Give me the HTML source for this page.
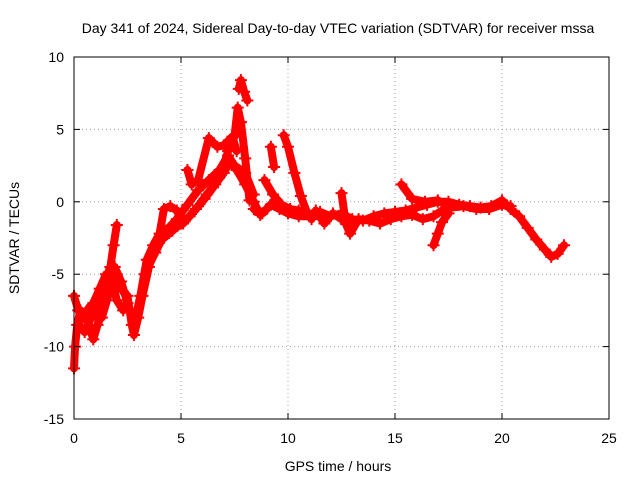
<!DOCTYPE html>
<html><head><meta charset="utf-8"><style>
body{margin:0;background:#fff}
svg text{font-family:"Liberation Sans",sans-serif;font-size:14px;fill:#000}
</style></head><body>
<svg width="640" height="480" viewBox="0 0 640 480">
<text x="338" y="33" text-anchor="middle">Day 341 of 2024, Sidereal Day-to-day VTEC variation (SDTVAR) for receiver mssa</text>
<g id="grid"></g>
<g id="data"></g>
<g id="axes"></g>
<text x="338" y="471" text-anchor="middle">GPS time / hours</text>
<text transform="translate(19,238) rotate(-90)" text-anchor="middle">SDTVAR / TECUs</text>
</svg>
<script>
const xTicks=[0,5,10,15,20,25];
const yTicks=[-15,-10,-5,0,5,10];
const t1h=[0,0.05,0.15,0.3,0.5,0.7,0.9,1.1,1.3,1.5,1.7,1.85,2.0];
const t1v=[-11.5,-10,-8.5,-7.5,-7.8,-8.5,-9.5,-8.5,-7,-5.5,-4.5,-3,-1.6];
const t2h=[0,0.2,0.4,0.6,0.9,1.2,1.5,1.8,2.0,2.2,2.5,2.7,2.8,3.0,3.2,3.5,3.8,4.2,4.6,5.0,5.4,5.8,6.2,6.6,7.0,7.3,7.6,8.0,8.4,8.7,9.0,9.4];
const t2v=[-6.5,-7.5,-8,-7.5,-7,-6,-5,-5.5,-5,-6,-6.5,-8.5,-9.2,-8,-6.5,-4.5,-3,-2.5,-2,-1.5,-1,-0.3,0.5,1.2,2,2.8,2.2,1.2,0,-0.9,-0.5,0.1];
const t3h=[1.3,1.6,1.9,2.2,2.5,2.8,3.1,3.4,3.7,4.0,4.2,4.5,4.8,5.1,5.4,5.7,6.1,6.5,6.9,7.2,7.5,7.65,7.8,8.0,8.2];
const t3v=[-8,-6.5,-4.5,-5.5,-7,-8.5,-6.5,-4,-3,-2.2,-0.5,-0.3,-0.6,-1.5,-1,-0.5,0.2,1,2,3.5,4.5,6.5,5.5,3,0.1];
const t4h=[5.3,5.5,5.8,6.3,6.7,7.0,7.4,7.6];
const t4v=[2.2,1.2,1.5,4.4,3.8,3.9,4.5,3.5];
const t5h=[9.8,10.0,10.3,10.6,10.9,11.1];
const t5v=[4.6,3.8,2,0.4,-0.8,-1.2];
const t6h=[8.4,8.8,9.2,9.6,10.0,10.5,11.0,11.5,12.0,12.5,13,13.5,14,14.5,15,15.5,16,16.5,17,17.5,18,18.5,19,19.5,20,20.4,20.8,21.2,21.6,22,22.3,22.6,22.9];
const t6v=[-0.5,-0.8,-0.2,-0.5,-0.8,-1,-1,-0.7,-1,-0.8,-1.2,-1.3,-1,-0.8,-0.7,-0.6,-0.4,-0.2,0,0,-0.2,-0.3,-0.4,-0.3,0.1,-0.5,-1,-1.8,-2.6,-3.3,-3.8,-3.6,-3];
const t7h=[15.3,15.8,16.4,17,17.6,18.2,18.8,19.4,20,20.4];
const t7v=[1.2,0.2,0,0.1,-0.4,-0.3,-0.5,-0.5,-0.2,-0.3];
const t8h=[12.5,12.7,12.9,13.3,13.8,14.3,14.8,15.3,15.8,16.3,16.8,17.2];
const t8v=[0.6,-1.5,-2.2,-1.2,-1.3,-1.5,-1.2,-1,-0.9,-1.2,-1,-0.6];
const t9h=[7.7,7.8,7.95,8.1];
const t9v=[7.8,8.4,7.6,7.0];
const t10h=[8.9,9.3,9.7,10.1,10.5,11.0];
const t10v=[1.5,0.5,-0.2,-0.5,-0.6,-1];
const t11h=[16.8,17.0,17.2,17.5];
const t11v=[-3,-2.2,-1.4,-0.8];
const t12h=[9.2,9.35];
const t12v=[3.8,2.4];
const t13h=[3.3,3.8,4.3,4.8,5.3,5.8,6.3,6.8,7.2,7.5,8.0,8.4];
const t13v=[-5,-3.5,-2,-1.2,-0.2,0.8,1.5,2.2,3.2,2.5,2,0.5];
const t14h=[0.2,0.5,0.8,1.1,1.4,1.7,2.0,2.3];
const t14v=[-8.5,-9,-8,-7.2,-6.5,-5,-6.8,-7.5];
const t15h=[11.3,11.7,12.1,12.5];
const t15v=[-0.6,-1.5,-0.8,-1.2];
const tracks=[[t1h,t1v],[t2h,t2v],[t3h,t3v],[t4h,t4v],[t5h,t5v],[t6h,t6v],[t7h,t7v],[t8h,t8v],[t9h,t9v],[t10h,t10v],[t11h,t11v],[t12h,t12v],[t13h,t13v],[t14h,t14v],[t15h,t15v]];
const X0=74,X1=609,Y0=419,Y1=57;
const sx=h=>X0+(h-0)/25*(X1-X0);
const sy=v=>Y0-(v+15)/25*(Y0-Y1);
const NS="http://www.w3.org/2000/svg";
function mk(tag,attrs,parent){const e=document.createElementNS(NS,tag);for(const k in attrs)e.setAttribute(k,attrs[k]);parent.appendChild(e);return e;}
const grid=document.getElementById('grid'),axes=document.getElementById('axes'),data=document.getElementById('data');
xTicks.forEach(t=>{const x=sx(t);
 if(t>0&&t<25){const g=mk('line',{x1:x,x2:x,y1:Y1,y2:Y0,stroke:'#a0a0a0','stroke-dasharray':'1,3'},grid);
 
 }
 mk('line',{x1:x,x2:x,y1:Y0,y2:Y0-6,stroke:'#000'},axes);
 mk('line',{x1:x,x2:x,y1:Y1,y2:Y1+6,stroke:'#000'},axes);
 const l=mk('text',{x:x,y:Y0+24,'text-anchor':'middle'},axes);l.textContent=t;
 
 
});
yTicks.forEach(t=>{const y=sy(t);
 if(t>-15&&t<10){const g=mk('line',{x1:X0,x2:X1,y1:y,y2:y,stroke:'#a0a0a0','stroke-dasharray':'1,3'},grid);
 
 }
 mk('line',{x1:X0,x2:X0+6,y1:y,y2:y,stroke:'#000'},axes);
 mk('line',{x1:X1,x2:X1-6,y1:y,y2:y,stroke:'#000'},axes);
 const l=mk('text',{x:X0-10,y:y+5,'text-anchor':'end'},axes);l.textContent=t;
 
 
});
mk('rect',{x:X0,y:Y1,width:X1-X0,height:Y0-Y1,fill:'none',stroke:'#000'},axes);
tracks.forEach(([hs,vs],i)=>{
 const pts=hs.map((h,j)=>sx(h)+','+sy(vs[j])).join(' ');
 const pl=mk('polyline',{points:pts,fill:'none',stroke:'#ff0000','stroke-width':8,'stroke-linejoin':'round','stroke-linecap':'round'},data);
 
 
 hs.forEach((h,j)=>{const x=sx(h),y=sy(vs[j]);
  const p=mk('path',{d:`M${x-6},${y}H${x+6}M${x},${y-6}V${y+6}`,stroke:'#ff0000','stroke-width':2},data);
  
  
 });
});
</script>
</body></html>
